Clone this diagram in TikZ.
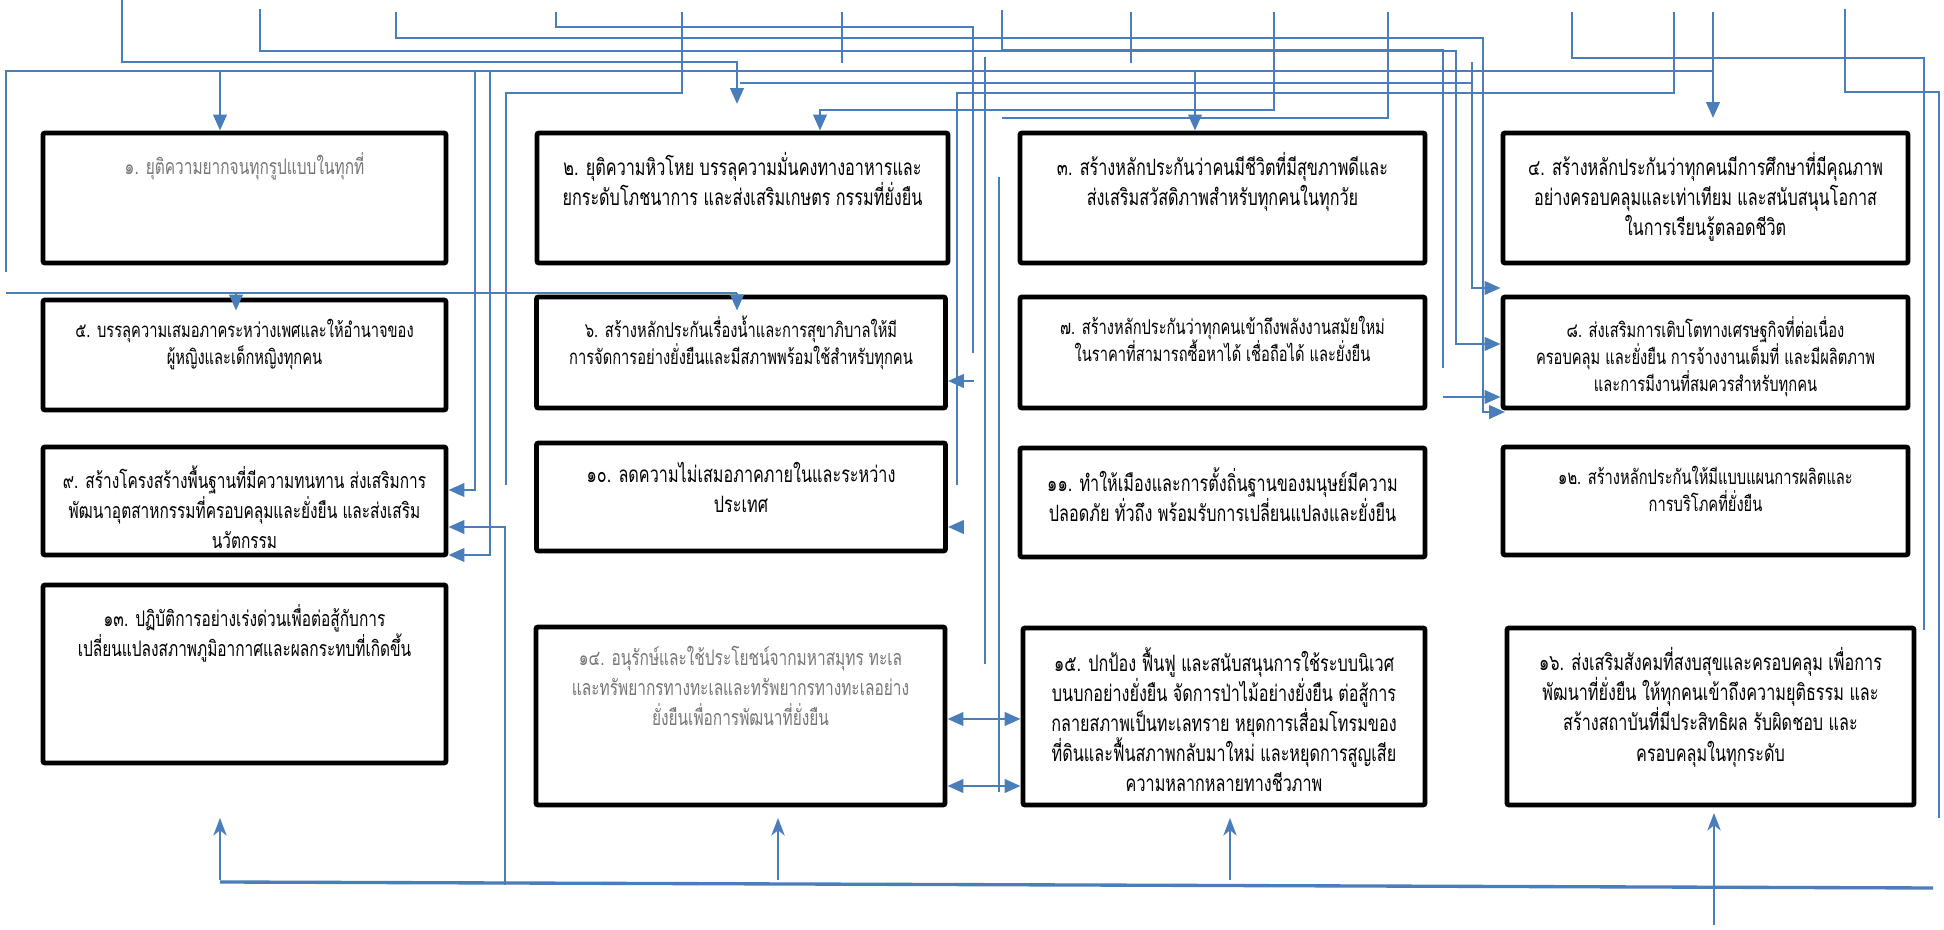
\documentclass[tikz,border=0pt]{standalone}
\usepackage{fontspec}
\newfontfamily\thaifont[Script=Thai,FakeStretch=0.72]{Loma}
\usetikzlibrary{arrows.meta, positioning, calc}
\definecolor{lnB}{RGB}{74,126,187}
\definecolor{txtG}{RGB}{118,118,118}
\newcommand{\tightlines}{\lineskiplimit=-20pt\relax}
\tikzset{
  goal/.style={draw=black, line width=1.4pt, rounded corners=0.6pt, inner sep=0pt},
  lblL/.style={font=\thaifont\fontsize{6.4}{8.6}\selectfont\tightlines, align=center, inner sep=0pt},
  lblM/.style={font=\thaifont\fontsize{6.1}{8.5}\selectfont\tightlines, align=center, inner sep=0pt},
  lblS/.style={font=\thaifont\fontsize{5.8}{7.7}\selectfont\tightlines, align=center, inner sep=0pt},
  ln/.style={draw=lnB, line width=0.55pt},
  arr/.style={ln, line width=0.75pt, -{Triangle[length=4.5pt,width=3.8pt]}},
  darr/.style={ln, line width=0.75pt, {Triangle[length=4.5pt,width=3.8pt]}-{Triangle[length=4.5pt,width=3.8pt]}},
  uarr/.style={ln, -{Stealth[length=5pt,width=3.8pt,inset=1.5pt]}},
  bus/.style={draw=lnB, line width=0.95pt}
}

\begin{document}
\begin{tikzpicture}[x=0.1mm, y=-0.1mm]
\useasboundingbox (0,0) rectangle (1944,930);
% --- goal boxes, row by row
\node[goal, minimum width=40.3mm, minimum height=13mm] (g1) at (244.5,198) {};
\node[goal, minimum width=41.1mm, minimum height=13mm] (g2) at (742.5,198) {};
\node[goal, minimum width=40.5mm, minimum height=13mm] (g3) at (1222.5,198) {};
\node[goal, minimum width=40.5mm, minimum height=13mm] (g4) at (1705.5,198) {};
\node[goal, minimum width=40.3mm, minimum height=11mm] (g5) at (244.5,355) {};
\node[goal, minimum width=40.9mm, minimum height=11.1mm] (g6) at (741,352.5) {};
\node[goal, minimum width=40.5mm, minimum height=11.1mm] (g7) at (1222.5,352.5) {};
\node[goal, minimum width=40.5mm, minimum height=11.1mm] (g8) at (1705.5,352.5) {};
\node[goal, minimum width=40.3mm, minimum height=10.8mm] (g9) at (244.5,501) {};
\node[goal, minimum width=40.9mm, minimum height=10.8mm] (g10) at (741,497) {};
\node[goal, minimum width=40.5mm, minimum height=10.9mm] (g11) at (1222.5,502.5) {};
\node[goal, minimum width=40.5mm, minimum height=10.8mm] (g12) at (1705.5,501) {};
\node[goal, minimum width=40.3mm, minimum height=17.8mm] (g13) at (244.5,674) {};
\node[goal, minimum width=40.9mm, minimum height=17.8mm] (g14) at (740.5,716) {};
\node[goal, minimum width=40.2mm, minimum height=17.7mm] (g15) at (1224,716.5) {};
\node[goal, minimum width=40.7mm, minimum height=17.7mm] (g16) at (1710.5,716.5) {};
% --- texts hang from the top edge of each box
\node[lblM, txtG, below=2.1mm of g1.north] (t1) {๑. ยุติความยากจนทุกรูปแบบในทุกที่};
\node[lblL, below=2.1mm of g2.north] (t2) {๒. ยุติความหิวโหย บรรลุความมั่นคงทางอาหารและ\\ยกระดับโภชนาการ และส่งเสริมเกษตร กรรมที่ยั่งยืน};
\node[lblL, below=2.1mm of g3.north] (t3) {๓. สร้างหลักประกันว่าคนมีชีวิตที่มีสุขภาพดีและ\\ส่งเสริมสวัสดิภาพสำหรับทุกคนในทุกวัย};
\node[lblL, below=2.1mm of g4.north] (t4) {๔. สร้างหลักประกันว่าทุกคนมีการศึกษาที่มีคุณภาพ\\อย่างครอบคลุมและเท่าเทียม และสนับสนุนโอกาส\\ในการเรียนรู้ตลอดชีวิต};
\node[lblS, below=2.1mm of g5.north] (t5) {๕. บรรลุความเสมอภาคระหว่างเพศและให้อำนาจของ\\ผู้หญิงและเด็กหญิงทุกคน};
\node[lblS, below=2.1mm of g6.north] (t6) {๖. สร้างหลักประกันเรื่องน้ำและการสุขาภิบาลให้มี\\การจัดการอย่างยั่งยืนและมีสภาพพร้อมใช้สำหรับทุกคน};
\node[lblS, below=2.1mm of g7.north] (t7) {๗. สร้างหลักประกันว่าทุกคนเข้าถึงพลังงานสมัยใหม่\\ในราคาที่สามารถซื้อหาได้ เชื่อถือได้ และยั่งยืน};
\node[lblS, below=2.1mm of g8.north] (t8) {๘. ส่งเสริมการเติบโตทางเศรษฐกิจที่ต่อเนื่อง\\ครอบคลุม และยั่งยืน การจ้างงานเต็มที่ และมีผลิตภาพ\\และการมีงานที่สมควรสำหรับทุกคน};
\node[lblM, below=2.1mm of g9.north] (t9) {๙. สร้างโครงสร้างพื้นฐานที่มีความทนทาน ส่งเสริมการ\\พัฒนาอุตสาหกรรมที่ครอบคลุมและยั่งยืน และส่งเสริม\\นวัตกรรม};
\node[lblL, below=2.1mm of g10.north] (t10) {๑๐. ลดความไม่เสมอภาคภายในและระหว่าง\\ประเทศ};
\node[lblL, below=2.1mm of g11.north] (t11) {๑๑. ทำให้เมืองและการตั้งถิ่นฐานของมนุษย์มีความ\\ปลอดภัย ทั่วถึง พร้อมรับการเปลี่ยนแปลงและยั่งยืน};
\node[lblS, below=2.1mm of g12.north] (t12) {๑๒. สร้างหลักประกันให้มีแบบแผนการผลิตและ\\การบริโภคที่ยั่งยืน};
\node[lblM, below=2.1mm of g13.north] (t13) {๑๓. ปฏิบัติการอย่างเร่งด่วนเพื่อต่อสู้กับการ\\เปลี่ยนแปลงสภาพภูมิอากาศและผลกระทบที่เกิดขึ้น};
\node[lblM, txtG, below=2.1mm of g14.north] (t14) {๑๔. อนุรักษ์และใช้ประโยชน์จากมหาสมุทร ทะเล\\และทรัพยากรทางทะเลและทรัพยากรทางทะเลอย่าง\\ยั่งยืนเพื่อการพัฒนาที่ยั่งยืน};
\node[lblL, below=2.1mm of g15.north] (t15) {๑๕. ปกป้อง ฟื้นฟู และสนับสนุนการใช้ระบบนิเวศ\\บนบกอย่างยั่งยืน จัดการป่าไม้อย่างยั่งยืน ต่อสู้การ\\กลายสภาพเป็นทะเลทราย หยุดการเสื่อมโทรมของ\\ที่ดินและฟื้นสภาพกลับมาใหม่ และหยุดการสูญเสีย\\ความหลากหลายทางชีวภาพ};
\node[lblL, below=2.1mm of g16.north] (t16) {๑๖. ส่งเสริมสังคมที่สงบสุขและครอบคลุม เพื่อการ\\พัฒนาที่ยั่งยืน ให้ทุกคนเข้าถึงความยุติธรรม และ\\สร้างสถาบันที่มีประสิทธิผล รับผิดชอบ และ\\ครอบคลุมในทุกระดับ};

% --- feeder stubs along the top edge
\foreach \n/\x/\y in {fa/122/0, fb/260/9, fc/396/12, fd/556/12, fe/682/12, ff/842/12,
  fg/1002/10, fh/1131/12, fi/1274/12, fj/1388/12, fk/1572/12, fl/1674/12, fm/1713/12, fn/1845/9}
  \coordinate (\n) at (\x,\y);
% trunk at the top and bus at the bottom
\coordinate (ta) at (6,272);
\coordinate (tr) at (1713,71);
\coordinate (bl) at (220,882);
\coordinate (br) at (1933,888);

% connectors from the top stubs
\draw[arr] (fa) -- ++(0,62) -| (737,104);
\draw[arr] (fb) -- ++(0,42) -| (1456,344) -- (g8.west |- 0,344);
\draw[arr] (fc) -- ++(0,26) -| (1483,412) -- (1505,412);
\draw[ln] (fd) -- ++(0,15) -| (973,353);
\draw[arr] (974,381) -- (g6.east |- 0,381);
\draw[ln] (fe) -- ++(0,81) -| (506,485);
\draw[ln] (ff) -- ++(0,51);
\draw[ln] (fg) -- ++(0,40) -| (1443,368);
\draw[arr] (1443,397) -- (g8.west |- 0,397);
\draw[ln] (fh) -- ++(0,51);
\draw[arr] (fi) -- ++(0,98) -| (g2.north -| 820,0);
\draw[ln] (fj) -- ++(0,106) -- (1002,118);
\draw[arr] (fm) -- ++(0,106);
\draw[ln] (fl) -- ++(0,81) -| (957,485);
\draw[arr] (963,527) -- (g10.east |- 0,527);
\draw[ln] (fk) -- ++(0,46) -| (1924,630);
\draw[ln] (fn) -- ++(0,83) -| (1939,818);
\draw[ln] (740,83) -- (1472,83);
\draw[arr] (1472,62) |- (g8.west |- 0,288);

% trunk with its drops
\draw[ln] (ta) |- (tr);
\draw[arr] (tr -| 220,0) -- (g1.north -| 220,0);
\draw[arr] (tr -| 1195,0) -- (g3.north -| 1195,0);
\draw[arr] (tr -| 475,0) |- (g9.east |- 0,490);
\draw[arr] (tr -| 490,0) |- (g9.east |- 0,555);
% second run over row 2
\draw[ln] (6,293) -- (737,293);
\draw[arr] (236,293) -- ($(g5.north -| 236,0)+(0,13)$);
\draw[arr] (737,293) -- ($(g6.north -| 737,0)+(0,16)$);

% loose verticals in the middle gap
\draw[ln] (985,57) -- (985,664);
\draw[ln] (999,177) -- (999,792);
\draw[darr] (g14.east |- 0,719) -- (g15.west |- 0,719);
\draw[darr] (g14.east |- 0,786) -- (g15.west |- 0,786);

% bottom bus and the rising arrows
\draw[bus] (bl) -- (br);
\draw[arr] (505,885) -- (505,527) -- (g9.east |- 0,527);
\draw[uarr] (220,880) -- (220,818);
\draw[uarr] (778,880) -- (778,818);
\draw[uarr] (1230,880) -- (1230,818);
\draw[uarr] (1714,925) -- (1714,813);
\end{tikzpicture}
\end{document}
